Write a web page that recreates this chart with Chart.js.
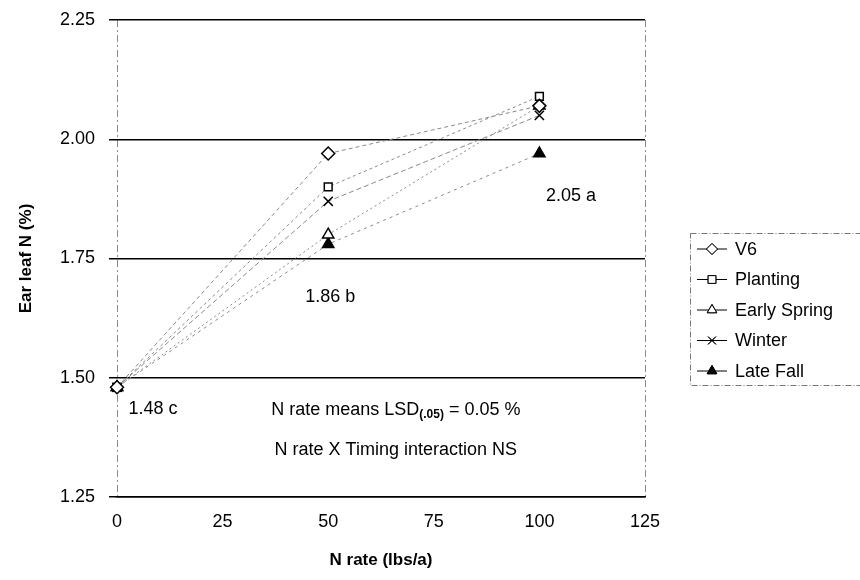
<!DOCTYPE html>
<html>
  <head>
    <meta charset="UTF-8">
    <title>Ear leaf N</title>
    <script src="https://cdn.jsdelivr.net/npm/chart.js"></script>
    <style>
      body { margin: 0; background: #fff; }
      #wrap { width: 860px; height: 580px; position: relative; }
    </style>
  </head>
  <body>
    <div id="wrap"><canvas id="chart"></canvas></div>

    <script>
      // data
      var nRates = [0, 50, 100];
      var seriesNames = ['V6', 'Planting', 'Early Spring', 'Winter', 'Late Fall'];
      var v6 = [1.48, 1.97, 2.07];
      var planting = [1.48, 1.90, 2.09];
      var earlySpring = [1.48, 1.80, 2.07];
      var winter = [1.48, 1.87, 2.05];
      var lateFall = [1.48, 1.78, 1.97];
      var yTicks = [1.25, 1.50, 1.75, 2.00, 2.25];
      var xTicks = [0, 25, 50, 75, 100, 125];

      // text labels on the plot: [x value, y value, text]
      var meanLabels = [
        [107.5, 1.88, '2.05 a'],
        [50.5, 1.67, '1.86 b'],
        [8.5, 1.434, '1.48 c']
      ];

      var FONT = "'Liberation Sans', Arial, sans-serif";

      function pts(vals) {
        var out = [];
        for (var i = 0; i < nRates.length; i++) out.push({ x: nRates[i], y: vals[i] });
        return out;
      }

      var styles = [
        { pointStyle: 'rectRot', fill: '#fff', dash: [4, 3] },
        { pointStyle: 'rect', fill: '#fff', dash: [3, 3] },
        { pointStyle: 'triangle', fill: '#fff', dash: [2, 3] },
        { pointStyle: 'crossRot', fill: '#fff', dash: [5, 3] },
        { pointStyle: 'triangle', fill: '#000', dash: [3, 4] }
      ];
      var allVals = [v6, planting, earlySpring, winter, lateFall];

      var datasets = [];
      for (var i = 0; i < seriesNames.length; i++) {
        datasets.push({
          label: seriesNames[i],
          data: pts(allVals[i]),
          borderColor: '#8a8a8a',
          borderWidth: 1,
          borderDash: styles[i].dash,
          pointStyle: styles[i].pointStyle,
          pointBackgroundColor: styles[i].fill,
          pointBorderColor: '#000',
          pointBorderWidth: 1.5,
          pointRadius: styles[i].pointStyle === 'rect' ? 5.5 : 6.5,
          clip: false,
          fill: false
        });
      }

      // legend drawn from the datasets, line-marker-line like the original
      var boxLegend = {
        id: 'boxLegend',
        afterDraw: function(chart) {
          var ctx = chart.ctx;
          var x0 = 690, y0 = 233, w = 175, h = 152;
          ctx.save();
          ctx.strokeStyle = '#777';
          ctx.lineWidth = 1;
          ctx.setLineDash([6, 2, 1, 2]);
          ctx.strokeRect(x0 + 0.5, y0 + 0.5, w, h);
          ctx.setLineDash([]);
          ctx.font = '18px ' + FONT;
          ctx.textBaseline = 'middle';
          for (var i = 0; i < chart.data.datasets.length; i++) {
            var ds = chart.data.datasets[i];
            var y = y0 + 16 + i * 30.5;
            ctx.strokeStyle = '#000';
            ctx.lineWidth = 1;
            ctx.beginPath();
            ctx.moveTo(697, y);
            ctx.lineTo(727, y);
            ctx.stroke();
            Chart.helpers.drawPoint(ctx, {
              pointStyle: ds.pointStyle,
              radius: 5.5,
              borderWidth: 1.3,
              rotation: 0
            }, 712, y);
            ctx.fillStyle = ds.pointBackgroundColor;
            ctx.fill();
            ctx.strokeStyle = '#000';
            ctx.stroke();
            ctx.fillStyle = '#000';
            ctx.fillText(ds.label, 735, y + 1);
          }
          ctx.restore();
        }
      };

      // mean letters and notes, placed through the scales
      var notes = {
        id: 'notes',
        afterDatasetsDraw: function(chart) {
          var ctx = chart.ctx;
          var xs = chart.scales.x, ys = chart.scales.y;
          ctx.save();
          ctx.fillStyle = '#000';
          ctx.font = '18px ' + FONT;
          ctx.textAlign = 'center';
          ctx.textBaseline = 'middle';
          for (var i = 0; i < meanLabels.length; i++) {
            var m = meanLabels[i];
            ctx.fillText(m[2], xs.getPixelForValue(m[0]), ys.getPixelForValue(m[1]));
          }
          // LSD line with subscript
          var cx = xs.getPixelForValue(66), cy = ys.getPixelForValue(1.432);
          var p1 = 'N rate means LSD', sub = '(.05)', p2 = ' = 0.05 %';
          ctx.font = '18px ' + FONT;
          var w1 = ctx.measureText(p1).width, w3 = ctx.measureText(p2).width;
          ctx.font = 'bold 12px ' + FONT;
          var w2 = ctx.measureText(sub).width;
          var sx = cx - (w1 + w2 + w3) / 2;
          ctx.textAlign = 'left';
          ctx.font = '18px ' + FONT;
          ctx.fillText(p1, sx, cy);
          ctx.font = 'bold 12px ' + FONT;
          ctx.fillText(sub, sx + w1, cy + 5);
          ctx.font = '18px ' + FONT;
          ctx.fillText(p2, sx + w1 + w2, cy);
          ctx.textAlign = 'center';
          ctx.fillText('N rate X Timing interaction NS', xs.getPixelForValue(66), ys.getPixelForValue(1.348));
          ctx.restore();
        }
      };

      var ctx = document.getElementById('chart').getContext('2d');
      var chart = new Chart(ctx, {
        type: 'line',
        data: { datasets: datasets },
        plugins: [boxLegend, notes],
        options: {
          responsive: true,
          maintainAspectRatio: false,
          animation: false,
          layout: { padding: { top: 20, right: 215, left: 0, bottom: 0 } },
          plugins: {
            legend: { display: false },
            tooltip: { enabled: false }
          },
          scales: {
            x: {
              type: 'linear',
              min: 0,
              max: 125,
              afterBuildTicks: function(axis) {
                axis.ticks = xTicks.map(function(v) { return { value: v }; });
              },
              afterFit: function(axis) {
                axis.height = 83;
                axis.paddingLeft = 0;
                axis.paddingRight = 0;
              },
              grid: {
                drawTicks: false,
                lineWidth: 1,
                color: function(c) {
                  return (c.tick && (c.tick.value === 0 || c.tick.value === 125)) ? '#8a8a8a' : 'rgba(0,0,0,0)';
                }
              },
              border: { display: true, color: '#000', width: 1.5, dash: [7, 3, 2, 3] },
              ticks: {
                padding: 14,
                color: '#000',
                font: { family: FONT, size: 18 }
              },
              title: {
                display: true,
                text: 'N rate (lbs/a)',
                color: '#000',
                font: { family: FONT, size: 17, weight: 'bold' },
                padding: { top: 10, bottom: 9 }
              }
            },
            y: {
              type: 'linear',
              min: 1.25,
              max: 2.25,
              afterBuildTicks: function(axis) {
                axis.ticks = yTicks.map(function(v) { return { value: v }; });
              },
              afterFit: function(axis) {
                axis.width = 117;
                axis.paddingTop = 0;
                axis.paddingBottom = 0;
              },
              grid: {
                color: '#000',
                lineWidth: 1.5,
                drawTicks: true,
                tickLength: 8
              },
              border: { display: false },
              ticks: {
                padding: 14,
                color: '#000',
                font: { family: FONT, size: 18 },
                callback: function(v) { return v.toFixed(2); }
              },
              title: {
                display: true,
                text: 'Ear leaf N (%)',
                color: '#000',
                font: { family: FONT, size: 17, weight: 'bold' },
                padding: { top: 16, bottom: 0 }
              }
            }
          }
        }
      });
    </script>
  </body>
</html>
